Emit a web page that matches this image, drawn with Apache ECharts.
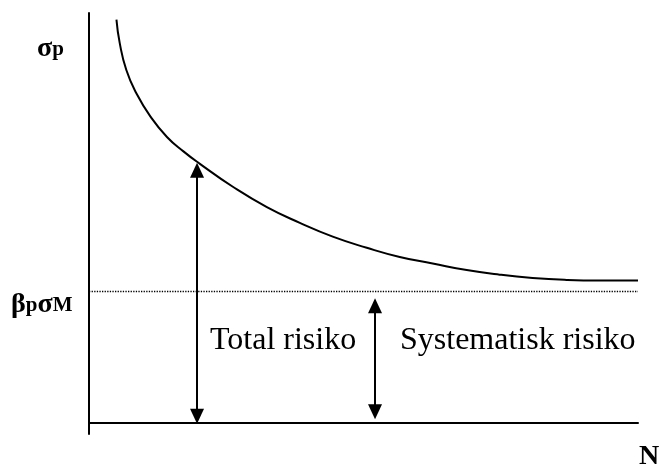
<!DOCTYPE html>
<html>
<head>
<meta charset="utf-8">
<script src="https://cdn.jsdelivr.net/npm/echarts@6/dist/echarts.min.js"></script>
<style>
  html, body { margin: 0; padding: 0; background: #fff; }
  #chart { width: 661px; height: 469px; }
</style>
</head>
<body>
<div id="chart"></div>
<script>
// antall aksjer i porteføljen (N) og porteføljens standardavvik (sigma_p)
const nValues = [2.5, 2.8, 3.4, 4.3, 5.6, 7.1, 8.6, 10.1, 13.1, 16.2, 19.2, 22.2, 25.3, 28.3, 31.3, 34.4, 37.4, 40.4, 43.5, 46.5, 50.0];
const sigmaValues = [61.5, 57.9, 53.8, 50.3, 46.7, 43.6, 41.4, 39.5, 36.0, 32.9, 30.5, 28.4, 26.7, 25.3, 24.3, 23.3, 22.6, 22.1, 21.8, 21.7, 21.7];

// systematisk risiko (beta_p * sigma_M)
const systematicLevel = 20;

// piler: [N, fra, til]
const totalArrow = [9.84, -0.15, 39.65];
const systematicArrow = [26.05, 0.56, 19.0];

const yMin = -1.7, yMax = 62.5;
const xMin = 0, xMax = 50;

const chart = echarts.init(document.getElementById('chart'));

const gridTop = 13, gridHeight = 421;
const arrowH = 15;
const half = arrowH / 2 * (yMax - yMin) / gridHeight;

const arrowLine = (a) => [
  { coord: [a[0], a[1] + half] },
  { coord: [a[0], a[2] - half] }
];

const serif = '"Liberation Serif", "Times New Roman", serif';
const symRich = {
  a: { fontFamily: serif, fontWeight: 'bold', fontSize: 28, fill: '#000', padding: [0, 0, 2, 0] },
  b: { fontFamily: serif, fontWeight: 'bold', fontSize: 21, fill: '#000' }
};

chart.setOption({
  animation: false,
  grid: { left: 89, right: 23, top: gridTop, height: gridHeight },
  xAxis: {
    type: 'value', min: xMin, max: xMax,
    axisLine: { show: true, onZero: true, lineStyle: { color: '#000', width: 2 } },
    axisTick: { show: false }, axisLabel: { show: false }, splitLine: { show: false }
  },
  yAxis: {
    type: 'value', min: yMin, max: yMax,
    axisLine: { show: true, lineStyle: { color: '#000', width: 2 } },
    axisTick: { show: false }, axisLabel: { show: false }, splitLine: { show: false }
  },
  series: [{
    type: 'line',
    smooth: 0.5,
    symbol: 'none',
    lineStyle: { color: '#000', width: 2 },
    data: nValues.map((n, i) => [n, sigmaValues[i]]),
    markLine: {
      silent: true,
      symbol: 'none',
      label: { show: false },
      lineStyle: { color: '#000', type: 'dotted', width: 1.3 },
      data: [{ yAxis: systematicLevel }]
    }
  }, {
    type: 'line',
    data: [],
    markLine: {
      silent: true,
      symbol: ['triangle', 'triangle'],
      symbolSize: [14, arrowH],
      label: { show: false },
      lineStyle: { color: '#000', type: 'solid', width: 2 },
      itemStyle: { color: '#000' },
      data: [arrowLine(totalArrow), arrowLine(systematicArrow)]
    }
  }],
  graphic: [
    { type: 'text', left: 37, top: 35, style: { text: '{a|σ}{b|p}', rich: symRich } },
    { type: 'text', left: 11, top: 291, style: { text: '{a|β}{b|p}{a|σ}{b|M}', rich: symRich } },
    { type: 'text', left: 210, top: 325, style: { text: 'Total risiko', font: '32px ' + serif, fill: '#000' } },
    { type: 'text', left: 400, top: 325, style: { text: 'Systematisk risiko', font: '32px ' + serif, fill: '#000' } },
    { type: 'text', left: 639, top: 443, style: { text: 'N', font: 'bold 28px ' + serif, fill: '#000' } }
  ]
});
</script>
</body>
</html>
